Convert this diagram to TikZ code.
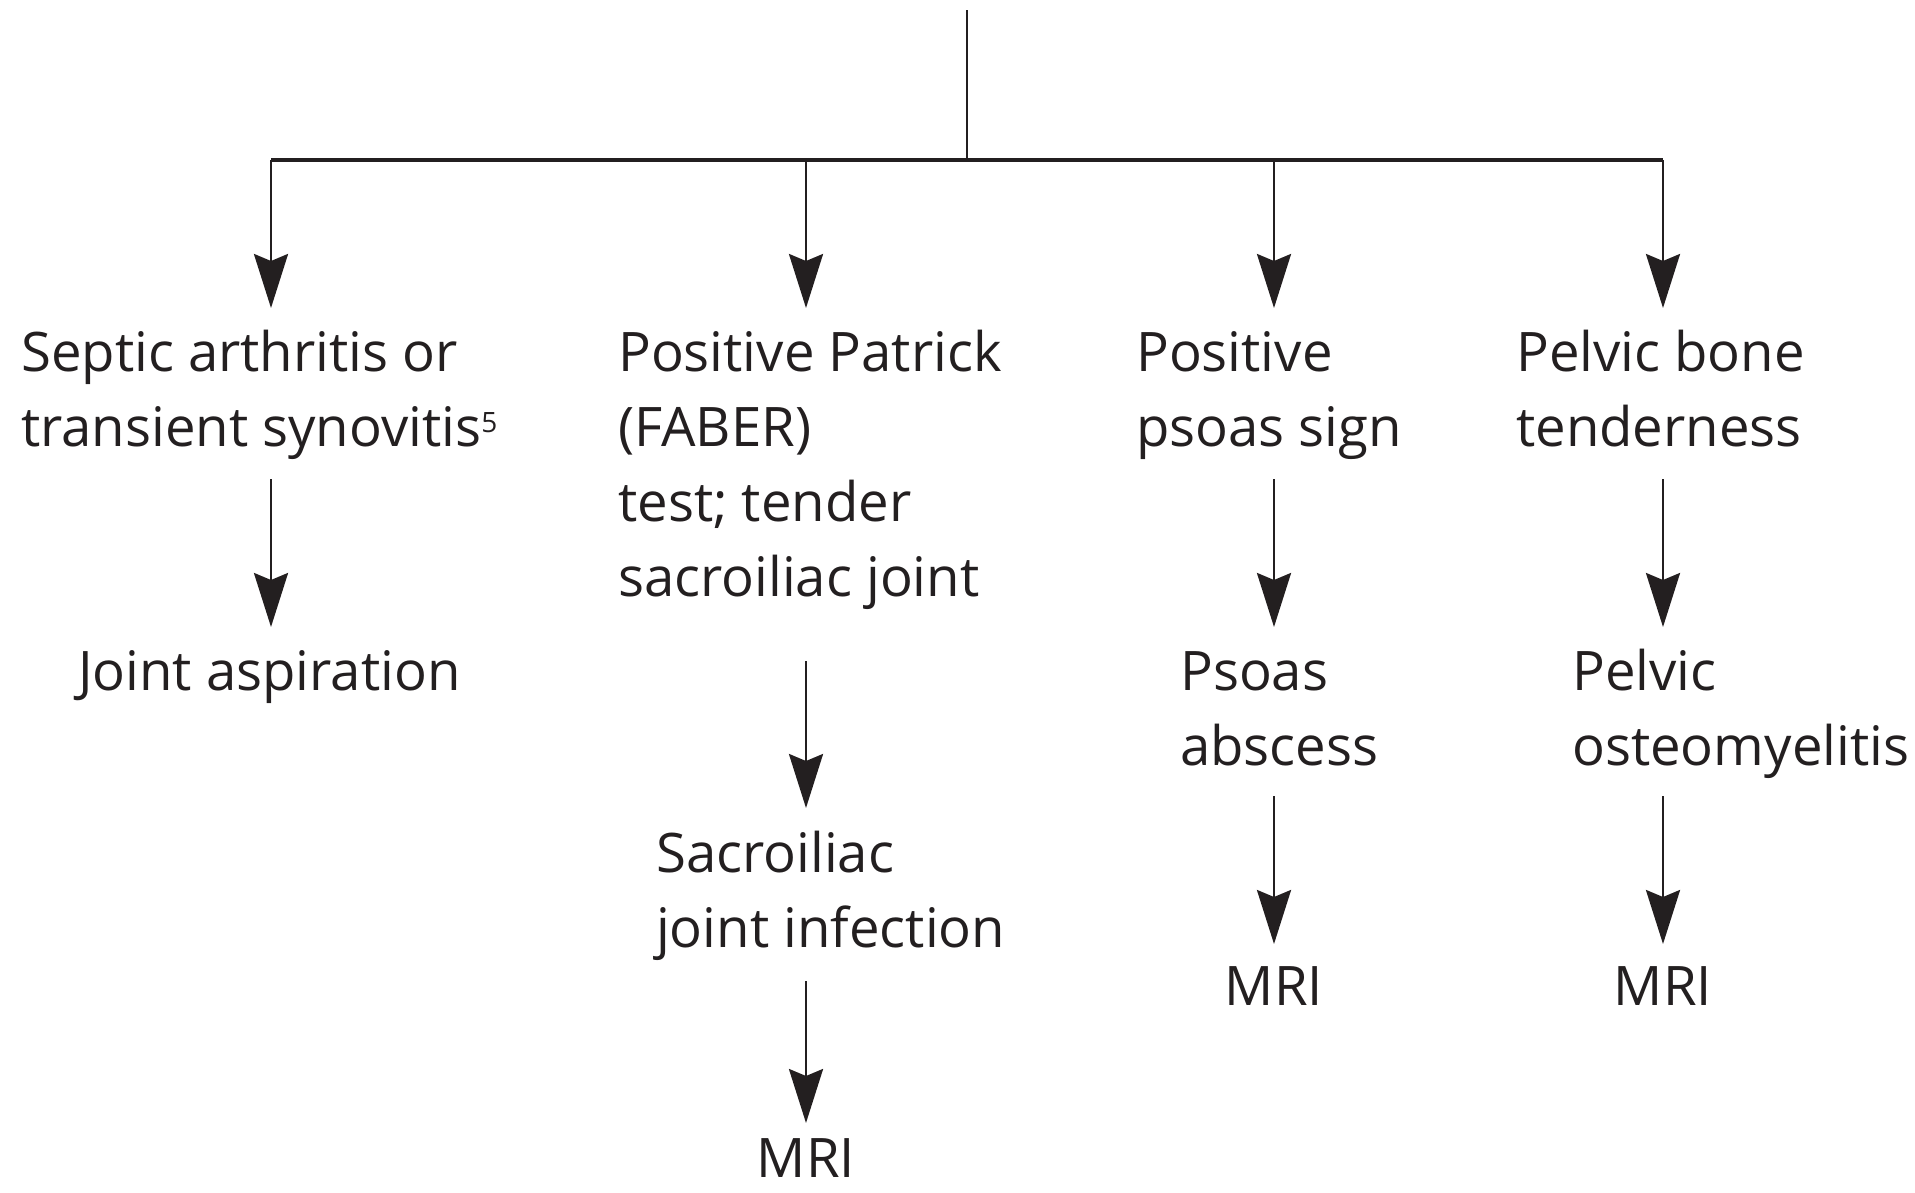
\documentclass[tikz,border=0pt]{standalone}
\usepackage{fontspec}
\setmainfont{Open Sans}
\usetikzlibrary{arrows.meta,calc}
\definecolor{ink}{RGB}{35,31,32}
\newcommand{\lnst}{\rule[-15pt]{0pt}{60pt}}
\begin{document}
\begin{tikzpicture}[x=1pt,y=-1pt,
  txt/.style={inner sep=0pt,align=left,anchor=north west,text=ink,
    font=\fontsize{54.5}{75}\selectfont},
  mri/.style={inner sep=0pt,anchor=north,text=ink,text height=40pt,text depth=0pt,
    font=\fontsize{54.5}{75}\selectfont},
  arr/.style={draw=ink,line width=2.8pt,-{Stealth[length=54pt,width=34pt,inset=7pt]}},
  conn/.style={draw=ink,line width=2.8pt}]
\useasboundingbox (0,0) rectangle (1915,1192);
% free ends of the tree
\coordinate (top) at (967,10);
\coordinate (hub) at (967,160);
\coordinate (h1) at (271,160);
\coordinate (h2) at (806,160);
\coordinate (h3) at (1274,160);
\coordinate (h4) at (1663,160);
% row A
\node[txt] (a1) at (21,326) {\lnst Septic arthritis or\\\lnst transient synovitis\raisebox{14pt}{\fontsize{28}{28}\selectfont 5}};
\node[txt] (a2) at (618,326) {\lnst Positive Patrick\\\lnst (FABER)\\\lnst test; tender\\\lnst sacroiliac joint};
\node[txt] (a3) at (1136,326) {\lnst Positive\\\lnst psoas sign};
\node[txt] (a4) at (1516,326) {\lnst Pelvic bone\\\lnst tenderness};
% row B
\node[txt] (b1) at (78,645) {\lnst Joint aspiration};
\node[txt] (b2) at (656,827) {\lnst Sacroiliac\\\lnst joint infection};
\node[txt] (b3) at (1180,645) {\lnst Psoas\\\lnst abscess};
\node[txt] (b4) at (1572,645) {\lnst Pelvic\\\lnst osteomyelitis};
% row C
\node[mri] (m2) at (806,1137) {MRI};
\node[mri] (m3) at (1274,965) {MRI};
\node[mri] (m4) at (1663,965) {MRI};
% tree lines
\draw[conn] (top) -- (hub);
\draw[draw=ink,line width=4pt] (h1) -- (h4);
\draw[arr] (h1) -- ($(a1.north -| h1)+(0,-18)$);
\draw[arr] (h2) -- ($(a2.north -| h2)+(0,-18)$);
\draw[arr] (h3) -- ($(a3.north -| h3)+(0,-18)$);
\draw[arr] (h4) -- ($(a4.north -| h4)+(0,-18)$);
% second level
\draw[arr] ($(a1.south -| h1)+(0,18)$) -- ($(b1.north -| h1)+(0,-18)$);
\draw[arr] ($(a2.south -| h2)+(0,50)$) -- ($(b2.north -| h2)+(0,-19)$);
\draw[arr] ($(a3.south -| h3)+(0,18)$) -- ($(b3.north -| h3)+(0,-18)$);
\draw[arr] ($(a4.south -| h4)+(0,18)$) -- ($(b4.north -| h4)+(0,-18)$);
% third level
\draw[arr] ($(b2.south -| h2)+(0,19)$) -- ($(m2.north)+(0,-14)$);
\draw[arr] ($(b3.south -| h3)+(0,16)$) -- ($(m3.north)+(0,-21)$);
\draw[arr] ($(b4.south -| h4)+(0,16)$) -- ($(m4.north)+(0,-21)$);
\end{tikzpicture}
\end{document}
